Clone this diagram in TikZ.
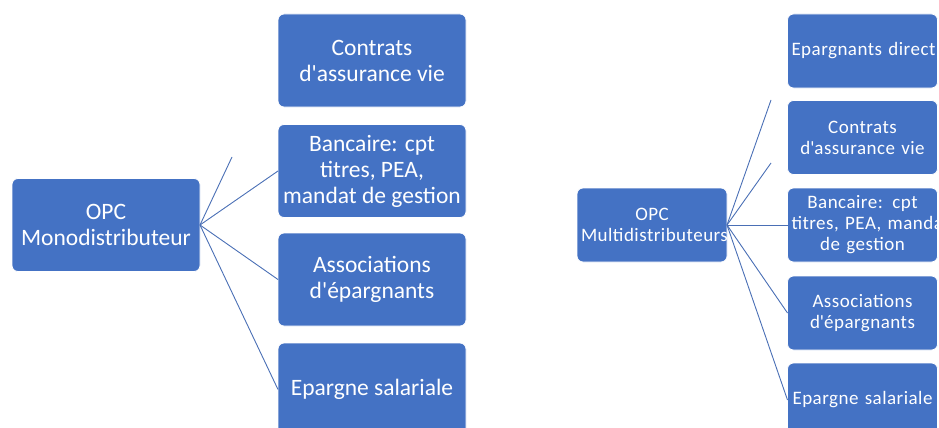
\documentclass[tikz,border=0pt]{standalone}
\usepackage{fontspec}
\setmainfont{Carlito}
\usetikzlibrary{positioning}
\definecolor{officeblue}{HTML}{4472C4}
\definecolor{linkblue}{HTML}{4A6FB5}
\newcommand{\ap}{\textquotesingle}

\begin{document}
\begin{tikzpicture}[x=1pt,y=-1pt,
    bigbox/.style={fill=officeblue,draw=white,line width=0.8pt,rounded corners=6pt,
      text=white,align=center,inner sep=0pt,outer sep=0pt,
      minimum width=188pt,minimum height=93pt,font=\fontsize{23.5}{26}\selectfont},
    smallbox/.style={bigbox,inner xsep=4pt,text width=142pt,minimum width=150pt,minimum height=74pt,
      font=\fontsize{19}{21}\selectfont\addfontfeature{LetterSpace=2.5}},
    link/.style={draw=linkblue,line width=0.9pt}]
        \useasboundingbox (0,0) rectangle (939,428);
        \clip (0,0) rectangle (939,428);

        % mono
        \node[bigbox] (mono) at (106,225) {OPC\\Monodistributeur};
        \node[bigbox] (mvie) at (372,60.5) {Contrats\\d\ap assurance vie};
        \node[bigbox] (mbanc) at (372,171) {Bancaire: cpt\\titres, PEA,\\mandat de gestion};
        \node[bigbox] (masso) at (372,279.5) {Associations\\d\ap épargnants};
        \node[bigbox] (msal) at (372,389.5) {Epargne salariale};
        \coordinate (mstub) at (232,157);

        % multi
        \node[smallbox] (multi) at (652,225) {OPC\\\mbox{Multidistributeurs}};
        \node[smallbox] (xdir) at (862.5,51) {\mbox{Epargnants direct}};
        \node[smallbox] (xvie) at (862.5,137.5) {Contrats\\\mbox{d\ap assurance vie}};
        \node[smallbox] (xbanc) at (862.5,225) {Bancaire: cpt\\\mbox{titres, PEA, mandat}\\de gestion};
        \node[smallbox] (xasso) at (862.5,313) {Associations\\d\ap épargnants};
        \node[smallbox] (xsal) at (862.5,400) {\mbox{Epargne salariale}};
        \coordinate (xstuba) at (771,100);
        \coordinate (xstubb) at (771,163);

        \foreach \to in {mstub,mbanc.west,masso.west,msal.west}
        \draw[link] (mono.east)--(\to);
        \foreach \to in {xstuba,xstubb,xbanc.west,xasso.west,xsal.west}
        \draw[link] (multi.east)--(\to);
\end{tikzpicture}
\end{document}
